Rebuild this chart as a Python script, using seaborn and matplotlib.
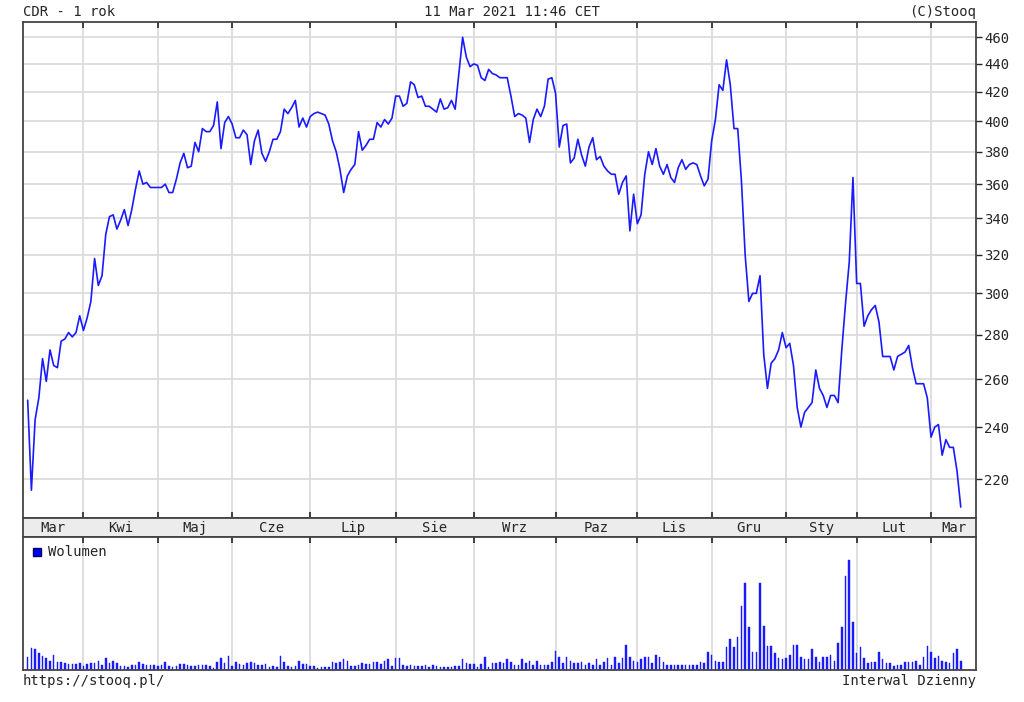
import numpy as np
import pandas as pd
import matplotlib
matplotlib.use("Agg")
import matplotlib.pyplot as plt
import matplotlib.ticker as mticker
import seaborn as sns

# closing prices, one per trading day (11 Mar 2020 - 11 Mar 2021)
close = [251, 216, 243, 252, 269, 259, 273, 266, 265, 277, 278, 281, 279, 281, 289, 282,
         288, 296, 318, 304, 309, 331, 341, 342, 334, 339, 345, 336, 345, 357, 368, 360,
         361, 358, 358, 358, 358, 360, 355, 355, 363, 373, 379, 370, 371, 386, 380, 395,
         393, 393, 397, 413, 382, 399, 403, 398, 389, 389, 394, 391, 372, 387, 394, 379,
         374, 380, 388, 388, 393, 408, 405, 409, 414, 396, 402, 396, 403, 405, 406, 405,
         404, 398, 387, 380, 369, 355, 365, 369, 372, 393, 381, 384, 388, 388, 399, 396,
         401, 398, 402, 417, 417, 410, 412, 427, 425, 416, 417, 410, 410, 408, 406, 415,
         408, 409, 414, 408, 433, 460, 445, 438, 440, 439, 430, 428, 436, 433, 432, 430,
         430, 430, 417, 403, 405, 404, 402, 386, 401, 408, 403, 410, 429, 430, 419, 383,
         397, 398, 373, 376, 388, 378, 371, 383, 389, 375, 377, 371, 368, 366, 366, 354,
         361, 365, 333, 354, 337, 342, 366, 380, 372, 382, 371, 366, 372, 364, 361, 370,
         375, 369, 372, 373, 372, 365, 359, 363, 387, 401, 425, 421, 443, 425, 395, 395,
         362, 320, 296, 300, 300, 309, 271, 256, 267, 269, 273, 281, 274, 276, 266, 248,
         240, 246, 248, 250, 264, 256, 253, 248, 253, 253, 250, 273, 295, 316, 364, 305,
         305, 284, 289, 292, 294, 286, 270, 270, 270, 264, 270, 271, 272, 275, 265, 258,
         258, 258, 252, 236, 240, 241, 229, 235, 232, 232, 223, 210]

# daily volume (relative units)
volume = [40, 65, 62, 50, 42, 35, 28, 45, 24, 23, 20, 17, 17, 17, 20, 13, 17, 20, 20, 27,
          15, 35, 20, 26, 20, 12, 12, 10, 14, 16, 23, 18, 16, 14, 16, 13, 14, 23, 12, 9,
          12, 18, 17, 14, 13, 13, 14, 16, 15, 12, 5, 23, 35, 20, 42, 12, 23, 17, 16, 20,
          23, 20, 16, 16,
          17, 10, 13, 9, 42, 24, 13, 10, 12, 27, 17, 17, 13, 13, 6, 9, 9, 9, 23, 21,
          24, 33, 27, 13, 13, 16, 21, 17, 17, 23, 23, 17, 27, 32, 13, 35, 35, 16, 13, 16,
          13, 13, 13, 16, 8, 16, 13, 9, 9, 9, 9, 13, 13, 32, 21, 17, 17, 10, 17, 39,
          9, 20, 20, 24,
          20, 32, 23, 15, 15, 34, 20, 27, 15, 26, 15, 15, 15, 23, 57, 39, 20, 39, 27, 20,
          20, 23, 15, 20, 15, 32, 15, 23, 35, 15, 39, 20, 35, 75, 39, 27, 23, 32, 39, 39,
          20, 45, 39, 23, 15, 15, 15, 15, 15, 15, 15, 15, 15, 23, 20, 53, 45, 27, 23, 23,
          68, 92, 68, 99, 192,
          260, 128, 53, 53, 262, 132, 72, 72, 50, 35, 32, 35, 45, 75, 75, 39, 32, 32, 62, 39,
          23, 39, 39, 45, 27, 80, 128, 282, 330, 143, 50, 69, 35, 20, 23, 23, 53, 32, 20, 20,
          12, 16, 16, 23, 23, 23, 26, 16, 39, 72, 53, 35, 42, 27, 23, 20, 50, 62, 27]

# trading-day index of the first session of each month
month_starts = [15, 35, 55, 76, 99, 120, 142, 164, 184, 204, 223, 243]
month_names = ["Mar", "Kwi", "Maj", "Cze", "Lip", "Sie", "Wrz", "Paz", "Lis", "Gru",
               "Sty", "Lut", "Mar"]
price_ticks = [220, 240, 260, 280, 300, 320, 340, 360, 380, 400, 420, 440, 460]

n = min(len(close), len(volume))
df = pd.DataFrame({"day": np.arange(n), "close": close[:n], "volume": volume[:n]})

sns.set_style("white")
plt.rcParams["font.family"] = ["DejaVu Sans Mono"]
plt.rcParams["font.size"] = 9

xlim = (-1.26, 255.1)
grid_c = "#dcdcdc"
blue = "#1a1aff"

fig = plt.figure(figsize=(10.24, 7.02), dpi=100)
ax = fig.add_axes([23/1024, 1-518/702, 953/1024, 496/702])
band = fig.add_axes([23/1024, 1-537/702, 953/1024, 19/702])
axv = fig.add_axes([23/1024, 1-670/702, 953/1024, 133/702])

# price panel
ax.set_yscale("log")
for m in month_starts:
    ax.axvline(m, color=grid_c, lw=1.3, zorder=0)
for p in price_ticks:
    ax.axhline(p, color=grid_c, lw=1.3, zorder=0)
sns.lineplot(data=df, x="day", y="close", ax=ax, color=blue, lw=1.2)
ax.set_xlim(xlim)
ax.set_ylim(206.2, 471.9)
ax.yaxis.tick_right()
ax.set_yticks(price_ticks)
ax.yaxis.set_major_formatter(mticker.FormatStrFormatter("%d"))
ax.yaxis.set_minor_locator(mticker.NullLocator())
ax.set_xticks(month_starts)
ax.set_xticklabels([])
ax.tick_params(axis="x", which="major", direction="in", length=4, width=1.3,
               top=True, bottom=True, color="#333333")
ax.tick_params(axis="y", which="major", direction="out", length=4, width=1,
               right=True, left=False, labelsize=10, pad=2)
ax.set_xlabel("")
ax.set_ylabel("")
for s in ax.spines.values():
    s.set_color("#444444")
    s.set_linewidth(1.3)

# month band
band.set_facecolor("#ececec")
band.set_xlim(xlim)
band.set_ylim(0, 1)
band.set_xticks([])
band.set_yticks([])
edges = [xlim[0]] + month_starts + [xlim[1]]
for name, a, b in zip(month_names, edges[:-1], edges[1:]):
    band.text((a + b) / 2, 0.45, name, ha="center", va="center", fontsize=10)
for s in band.spines.values():
    s.set_color("#444444")
    s.set_linewidth(1.3)

# volume panel
for m in month_starts:
    axv.axvline(m, color=grid_c, lw=1.3, zorder=0)
sns.barplot(data=df, x="day", y="volume", ax=axv, native_scale=True, width=0.42,
            color=blue, errorbar=None, saturation=1, edgecolor=blue, linewidth=0.3)
axv.set_xlim(xlim)
axv.set_ylim(0, 399)
axv.set_yticks([])
axv.set_xticks(month_starts)
axv.set_xticklabels([])
axv.tick_params(axis="x", direction="in", length=4, width=1.3, top=True, bottom=False,
                color="#333333")
axv.set_xlabel("")
axv.set_ylabel("")
for s in axv.spines.values():
    s.set_color("#444444")
    s.set_linewidth(1.3)
axv.plot([0.015], [0.885], marker="s", ms=6, color="#0000ee", mec="#000066",
         transform=axv.transAxes, clip_on=False)
axv.text(0.026, 0.885, "Wolumen", transform=axv.transAxes, va="center", fontsize=10)

# header and footer
fig.text(23/1024, 1-12/702, "CDR - 1 rok", ha="left", va="center", fontsize=10)
fig.text(512/1024, 1-12/702, "11 Mar 2021 11:46 CET", ha="center", va="center", fontsize=10)
fig.text(976/1024, 1-12/702, "(C)Stooq", ha="right", va="center", fontsize=10)
fig.text(23/1024, 1-681/702, "https://stooq.pl/", ha="left", va="center", fontsize=10)
fig.text(976/1024, 1-681/702, "Interwal Dzienny", ha="right", va="center", fontsize=10)

fig.savefig("out.png", dpi=100)
